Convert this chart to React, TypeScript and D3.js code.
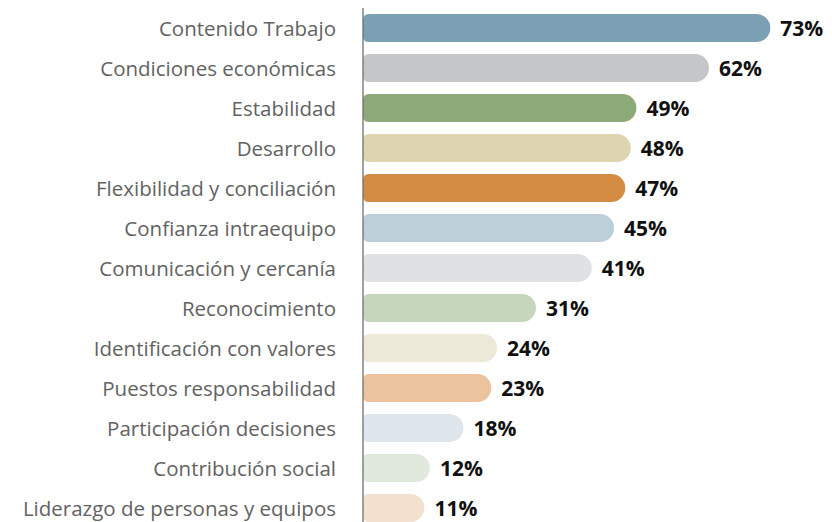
import React from "react";
import * as d3 from "d3";

const categories = [
  "Contenido Trabajo",
  "Condiciones económicas",
  "Estabilidad",
  "Desarrollo",
  "Flexibilidad y conciliación",
  "Confianza intraequipo",
  "Comunicación y cercanía",
  "Reconocimiento",
  "Identificación con valores",
  "Puestos responsabilidad",
  "Participación decisiones",
  "Contribución social",
  "Liderazgo de personas y equipos",
];
const values = [73, 62, 49, 48, 47, 45, 41, 31, 24, 23, 18, 12, 11];
const colors = [
  "#7B9FB3", "#C5C6C8", "#8DAA7A", "#DDD5B0", "#D48B43", "#BDD0D9", "#E0E1E3",
  "#C5D6BD", "#EDE9D8", "#EBC49F", "#DFE6EC", "#E1E9DD", "#F3E0CF",
];

const W = 832;
const H = 522;
const AX = 363;

export default function App() {
  const x = d3.scaleLinear().domain([0, 100]).range([AX, AX + 558]);
  const y = d3.scaleBand<string>().domain(categories).range([8, 528]).paddingInner(0.3).paddingOuter(0.15);
  const bw = y.bandwidth();

  const barPath = (x0: number, x1: number, y0: number, h: number) => {
    const r = h / 2;
    const rl = 6;
    const p = d3.path();
    p.moveTo(x0 + rl, y0);
    p.lineTo(x1 - r, y0);
    p.arc(x1 - r, y0 + r, r, -Math.PI / 2, Math.PI / 2);
    p.lineTo(x0 + rl, y0 + h);
    p.quadraticCurveTo(x0, y0 + h, x0, y0 + h - rl);
    p.lineTo(x0, y0 + rl);
    p.quadraticCurveTo(x0, y0, x0 + rl, y0);
    p.closePath();
    return p.toString();
  };

  return (
    <svg width={W} height={H} style={{ position: "absolute", left: 0, top: 0 }}>
      {categories.map((c, i) => {
        const y0 = y(c)!;
        const x1 = x(values[i]);
        const cy = y0 + bw / 2;
        return (
          <g key={c}>
            <path d={barPath(AX, x1, y0, bw)} fill={colors[i]} />
            <text
              x={336}
              y={cy + 1}
              dy="0.35em"
              textAnchor="end"
              fontFamily="'Open Sans', sans-serif"
              fontSize={20.5}
              fill="#626262"
            >
              {c}
            </text>
            <text
              x={x1 + 10}
              y={cy + 1}
              dy="0.35em"
              fontFamily="'Open Sans', sans-serif"
              fontWeight="bold"
              fontSize={21}
              fill="#111"
            >
              {values[i]}%
            </text>
          </g>
        );
      })}
      <line x1={AX} x2={AX} y1={8} y2={H} stroke="#6f6f6f" strokeWidth={1.3} />
    </svg>
  );
}
